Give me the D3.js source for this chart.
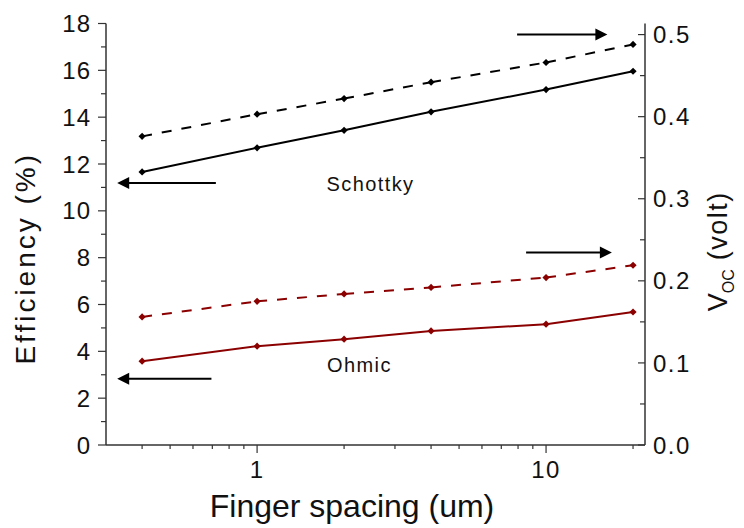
<!DOCTYPE html>
<html>
<head>
<meta charset="utf-8">
<script src="https://cdn.jsdelivr.net/npm/d3@7"></script>
<style>
  html, body { margin: 0; padding: 0; background: #fff; }
  svg { display: block; font-family: "Liberation Sans", Arial, sans-serif; }
</style>
</head>
<body>
<svg id="chart" width="744" height="528"></svg>
<script>
// ---- data ----
const spacing = [0.4, 1, 2, 4, 10, 20];
const schottkyEff = [11.66, 12.69, 13.44, 14.23, 15.18, 15.96];
const schottkyVoc = [0.376, 0.403, 0.422, 0.442, 0.466, 0.488];
const ohmicEff = [3.58, 4.22, 4.52, 4.87, 5.16, 5.68];
const ohmicVoc = [0.156, 0.175, 0.184, 0.192, 0.204, 0.219];
const xTickLabels = [1, 10];
const effTicks = [0, 2, 4, 6, 8, 10, 12, 14, 16, 18];
const vocTicks = [0.0, 0.1, 0.2, 0.3, 0.4, 0.5];
// arrow annotations in data units (x: um, y: efficiency %)
const arrowFromX = [0.72, 7.94, 0.695, 8.53];
const arrowToX = [0.328, 16.3, 0.328, 16.9];
const arrowY = [11.19, 17.53, 2.83, 8.22];
const labelText = ["Schottky", "Ohmic"];
const labelX = [2.47, 2.26];
const labelY = [10.85, 3.12];

const black = "#000000";
const red = "#8B0000";
const axisColor = "#333333";

const svg = d3.select("#chart");
const L = 106, R = 645, T = 23.5, B = 445;

const x = d3.scaleLog().domain([0.3, 22]).range([L, R]);
const yL = d3.scaleLinear().domain([0, 18]).range([B, T]);
const yR = d3.scaleLinear().domain([0, 0.5135]).range([B, T]);

// ---- axes ----
const g = svg.append("g");
// left axis
const minorEff = d3.range(0, 19, 1);
g.append("line").attr("x1", L).attr("x2", L).attr("y1", T).attr("y2", B)
  .attr("stroke", axisColor).attr("stroke-width", 1.5);
minorEff.forEach(v => {
  const major = v % 2 === 0;
  g.append("line").attr("x1", L).attr("x2", L - (major ? 8 : 5))
    .attr("y1", yL(v)).attr("y2", yL(v)).attr("stroke", axisColor).attr("stroke-width", 1.2);
});
effTicks.forEach(v => {
  g.append("text").attr("x", L - 15).attr("y", yL(v)).attr("dy", "0.36em")
    .attr("text-anchor", "end").attr("font-size", 24).attr("letter-spacing", 1)
    .attr("fill", "#111").text(v);
});

// right axis
g.append("line").attr("x1", R).attr("x2", R).attr("y1", T).attr("y2", B)
  .attr("stroke", axisColor).attr("stroke-width", 1.5);
d3.range(0, 11).map(i => i * 0.05).forEach((v, i) => {
  const major = i % 2 === 0;
  g.append("line").attr("x1", R).attr("x2", R - (major ? 7 : 5))
    .attr("y1", yR(v)).attr("y2", yR(v)).attr("stroke", axisColor).attr("stroke-width", 1.2);
});
vocTicks.forEach(v => {
  g.append("text").attr("x", R + 8).attr("y", yR(v)).attr("dy", "0.36em")
    .attr("text-anchor", "start").attr("font-size", 24).attr("letter-spacing", 1.5)
    .attr("fill", "#111").text(v.toFixed(1));
});

// bottom axis
g.append("line").attr("x1", L).attr("x2", R).attr("y1", B).attr("y2", B)
  .attr("stroke", axisColor).attr("stroke-width", 1.5);
const minorX = [];
[0.1, 1, 10].forEach(d => { for (let k = 1; k <= 9; k++) minorX.push(+(d * k).toPrecision(3)); });
minorX.filter(v => v > 0.3 && v < 22).forEach(v => {
  const major = xTickLabels.includes(v);
  g.append("line").attr("x1", x(v)).attr("x2", x(v)).attr("y1", B).attr("y2", B + (major ? 8 : 4))
    .attr("stroke", axisColor).attr("stroke-width", 1.2);
});
xTickLabels.forEach(v => {
  g.append("text").attr("x", x(v)).attr("y", B + 33).attr("text-anchor", "middle")
    .attr("font-size", 24).attr("letter-spacing", 1.5).attr("fill", "#111").text(v);
});

// titles
svg.append("text").attr("x", 352).attr("y", 517).attr("text-anchor", "middle")
  .attr("font-size", 32).attr("fill", "#111").text("Finger spacing (um)");
svg.append("text").attr("transform", `translate(35,${(T + B) / 2 + 24}) rotate(-90)`)
  .attr("text-anchor", "middle").attr("font-size", 28).attr("letter-spacing", 3)
  .attr("fill", "#111").text("Efficiency (%)");
const rt = svg.append("text").attr("transform", `translate(727,${(T + B) / 2 + 17}) rotate(-90)`)
  .attr("text-anchor", "middle").attr("font-size", 27).attr("fill", "#111");
rt.append("tspan").text("V");
rt.append("tspan").attr("font-size", 16).attr("dy", 7).text("OC");
rt.append("tspan").attr("dy", -7).attr("letter-spacing", 1.5).text(" (volt)");

// ---- series ----
const series = [
  { y: schottkyEff, scale: yL, color: black, dash: null },
  { y: schottkyVoc, scale: yR, color: black, dash: "10,10" },
  { y: ohmicEff, scale: yL, color: red, dash: null },
  { y: ohmicVoc, scale: yR, color: red, dash: "10,10" }
];
series.forEach(s => {
  const pts = spacing.map((v, i) => [v, s.y[i]]);
  const line = d3.line().x(d => x(d[0])).y(d => s.scale(d[1]));
  // draw segment by segment so the dash pattern restarts at each point
  for (let i = 0; i < pts.length - 1; i++) {
    svg.append("path").attr("d", line([pts[i], pts[i + 1]]))
      .attr("fill", "none").attr("stroke", s.color).attr("stroke-width", 2)
      .attr("stroke-dasharray", s.dash);
  }
  svg.selectAll(null).data(pts).enter().append("path")
    .attr("transform", d => `translate(${x(d[0])},${s.scale(d[1])})`)
    .attr("d", "M0,-3.6 L3.6,0 L0,3.6 L-3.6,0 Z")
    .attr("fill", s.color);
});

// ---- arrows ----
arrowY.forEach((yv, i) => {
  const x1 = x(arrowFromX[i]), x2 = x(arrowToX[i]), yy = yL(yv);
  const dir = x2 > x1 ? 1 : -1;
  const head = 12;
  svg.append("line").attr("x1", x1).attr("x2", x2 - dir * head + dir * 1).attr("y1", yy).attr("y2", yy)
    .attr("stroke", black).attr("stroke-width", 2);
  svg.append("path")
    .attr("d", `M${x2},${yy} L${x2 - dir * head},${yy - 6} L${x2 - dir * head},${yy + 6} Z`)
    .attr("fill", black);
});

// ---- labels ----
labelText.forEach((t, i) => {
  svg.append("text").attr("x", x(labelX[i])).attr("y", yL(labelY[i])).attr("text-anchor", "middle")
    .attr("font-size", 20).attr("letter-spacing", 1.4).attr("fill", "#111").text(t);
});
</script>
</body>
</html>
